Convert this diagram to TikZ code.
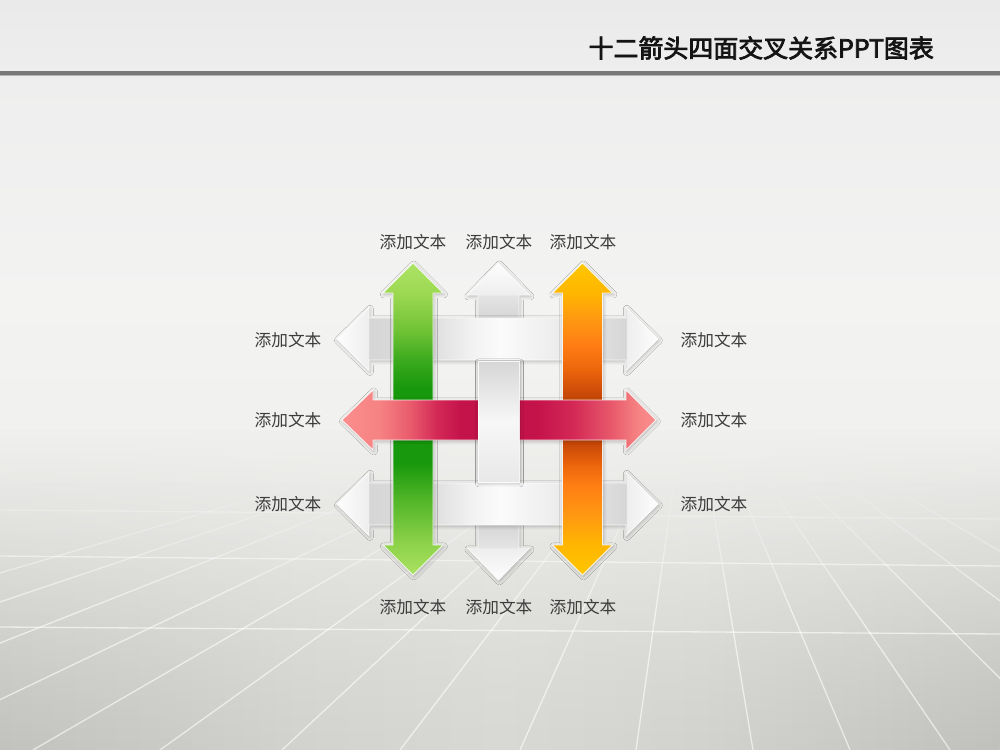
\documentclass[tikz,border=0pt]{standalone}
\usepackage{fontspec}
\setmainfont{Noto Sans CJK SC}
\newfontfamily\titlefont{Noto Sans CJK SC}[FakeBold=3]
\usepackage{xcolor}
\usepackage{tikz}
\usetikzlibrary{fadings,shadows.blur}
\definecolor{lbltext}{HTML}{3C3C3C}
\definecolor{titletext}{HTML}{141414}
\definecolor{barline}{HTML}{787878}
\definecolor{barlite}{HTML}{B4B4B4}
% background
\definecolor{bgT}{HTML}{EAEAEA}
\definecolor{bgU}{HTML}{EEEEEE}
\definecolor{bgM}{HTML}{F3F3F2}
\definecolor{bgL}{HTML}{EEEEEC}
\definecolor{bgB}{HTML}{E2E2DF}
\definecolor{vgA}{HTML}{C2C2BE}
\definecolor{vgB}{HTML}{C9C9C5}
\definecolor{vgC}{HTML}{D2D2CE}
\definecolor{vgD}{HTML}{D8D8D4}
\definecolor{vgE}{HTML}{C0C0BC}
% green
\definecolor{gLt}{HTML}{ACE466}
\definecolor{gHd}{HTML}{9CD852}
\definecolor{gMd}{HTML}{6EC234}
\definecolor{gMk}{HTML}{3CAA1E}
\definecolor{gDk}{HTML}{18980C}
\definecolor{gLo}{HTML}{52B628}
\definecolor{gLb}{HTML}{8ED24A}
\definecolor{gBt}{HTML}{AAE262}
% orange
\definecolor{oYl}{HTML}{FFC600}
\definecolor{oHd}{HTML}{FFB600}
\definecolor{oMd}{HTML}{FF9812}
\definecolor{oOr}{HTML}{FF7E14}
\definecolor{oRd}{HTML}{EC660C}
\definecolor{oDk}{HTML}{C84808}
% red
\definecolor{rPk}{HTML}{FC8E8E}
\definecolor{rP2}{HTML}{F68282}
\definecolor{rP3}{HTML}{E85A6C}
\definecolor{rP4}{HTML}{D42A56}
\definecolor{rCr}{HTML}{C4124A}
% white
\definecolor{wTp}{HTML}{FDFDFD}
\definecolor{wHb}{HTML}{EEEEEE}
\definecolor{wSg}{HTML}{D6D6D6}
\definecolor{wSl}{HTML}{E4E4E4}
\definecolor{wS2}{HTML}{DEDEDE}
\definecolor{wS3}{HTML}{F1F1F1}
\definecolor{wS4}{HTML}{FBFBFB}
\definecolor{wSd}{HTML}{D6D6D6}
\definecolor{wMd}{HTML}{F7F7F7}
\definecolor{wBt}{HTML}{E8E8E8}
\pgfdeclareverticalshading{bgshade}{100bp}{color(0bp)=(bgB); color(25bp)=(bgB); color(37.7bp)=(bgL); color(55bp)=(bgM); color(70bp)=(bgU); color(75bp)=(bgT); color(100bp)=(bgT)}
\pgfdeclarehorizontalshading{vigshade}{100bp}{color(0bp)=(vgA); color(25bp)=(vgA); color(32.5bp)=(vgB); color(40bp)=(vgC); color(50bp)=(vgD); color(60bp)=(vgC); color(67.5bp)=(vgB); color(75bp)=(vgE); color(100bp)=(vgE)}
\pgfdeclareverticalshading{greenv}{100bp}{color(0bp)=(gBt); color(25bp)=(gBt); color(30bp)=(gLb); color(37bp)=(gLo); color(43bp)=(gDk); color(55bp)=(gDk); color(59.5bp)=(gMk); color(64bp)=(gMd); color(70bp)=(gHd); color(75bp)=(gLt); color(100bp)=(gLt)}
\pgfdeclareverticalshading{orangev}{100bp}{color(0bp)=(oYl); color(25bp)=(oYl); color(29.8bp)=(oHd); color(34.6bp)=(oMd); color(39.4bp)=(oOr); color(42.6bp)=(oRd); color(46bp)=(oDk); color(54bp)=(oDk); color(58bp)=(oRd); color(62bp)=(oOr); color(66bp)=(oMd); color(70.2bp)=(oHd); color(75bp)=(oYl); color(100bp)=(oYl)}
\pgfdeclarehorizontalshading{redh}{100bp}{color(0bp)=(rPk); color(25bp)=(rPk); color(31bp)=(rP2); color(36bp)=(rP3); color(40bp)=(rP4); color(44bp)=(rCr); color(56bp)=(rCr); color(62bp)=(rP4); color(68bp)=(rP3); color(72bp)=(rP2); color(75bp)=(rPk); color(100bp)=(rPk)}
\pgfdeclarehorizontalshading{whiteh}{100bp}{color(0bp)=(wTp); color(25bp)=(wTp); color(29.9bp)=(wHb); color(30bp)=(wSg); color(40bp)=(wS2); color(45.7bp)=(wS3); color(50.4bp)=(wS4); color(56.6bp)=(wS3); color(66.4bp)=(wS2); color(70bp)=(wSg); color(70.1bp)=(wHb); color(75bp)=(wTp); color(100bp)=(wTp)}
\pgfdeclareverticalshading{whitev}{100bp}{color(0bp)=(wTp); color(25bp)=(wTp); color(30bp)=(wHb); color(30.1bp)=(wSl); color(33.7bp)=(wSg); color(66.3bp)=(wSg); color(69.9bp)=(wSl); color(70bp)=(wHb); color(75bp)=(wTp); color(100bp)=(wTp)}
\tikzfading[name=fadeup, top color=transparent!100, bottom color=transparent!0]
\tikzfading[name=gridfade, top color=transparent!100, bottom color=transparent!0, middle color=transparent!0]
\tikzset{
  arr/.style={draw=white, draw opacity=.85, line width=.5pt,
    blur shadow={shadow blur radius=2pt, shadow xshift=.5pt, shadow yshift=-.8pt, shadow opacity=25}},
  floor/.style={draw=white, line width=.75pt, opacity=.6},
  lbl/.style={text=lbltext, font=\fontsize{9.5pt}{11pt}\selectfont},
  ttl/.style={text=titletext, font=\titlefont\fontsize{14.2pt}{16pt}\selectfont}
}
\begin{document}
\begin{tikzpicture}[x=0.02cm, y=-0.02cm]
\useasboundingbox (0,0) rectangle (1000,750);
\clip (0,0) rectangle (1000,750);
% background and floor
\shade[shading=bgshade] (0,0) rectangle (1000,750);
\shade[shading=vigshade, path fading=fadeup] (0,430) rectangle (1000,750);
\foreach \b in {-600,-440,-270,-105,33,160,282,400,520,636,753,850,950,1072,1200,1340}
  \draw[floor, path fading=gridfade] ({690+(\b-690)/3.8},470) -- (\b,750);
\draw[floor, opacity=.25] (0,510) -- (1000,519);
\draw[floor, opacity=.5] (0,556) -- (1000,566);
\draw[floor] (0,627) -- (1000,634);
% title bar
\fill[barline] (0,71) rectangle (1000,75);
\fill[barlite] (0,75) rectangle (1000,76.5);
\node[ttl, anchor=east] (title) at (940,48) {十二箭头四面交叉关系PPT图表};
% middle white arrow, under the two white bars
\shade[arr, shading=whitev] (498.5,263) -- (529.5,295) -- (519,295) -- (519,548) -- (529.5,548) -- (498.5,580) -- (467.5,548) -- (478,548) -- (478,295) -- (467.5,295) -- cycle;
% white bars
\shade[arr, shading=whiteh] (337,339) -- (369,307.5) -- (369,318) -- (626,318) -- (626,307.5) -- (658,339) -- (626,370.5) -- (626,360) -- (369,360) -- (369,370.5) -- cycle;
\shade[arr, shading=whiteh] (337,504) -- (369,472.5) -- (369,483) -- (626,483) -- (626,472.5) -- (658,504) -- (626,535.5) -- (626,525) -- (369,525) -- (369,535.5) -- cycle;
% green and orange
\shade[arr, shading=greenv] (413,263) -- (443,293) -- (433,293) -- (433,545) -- (443,545) -- (413,575) -- (383,545) -- (393,545) -- (393,293) -- (383,293) -- cycle;
\shade[arr, shading=orangev] (582.5,263) -- (612.5,293) -- (602.5,293) -- (602.5,545) -- (612.5,545) -- (582.5,575) -- (552.5,545) -- (562.5,545) -- (562.5,293) -- (552.5,293) -- cycle;
% red
\shade[arr, shading=redh] (342,420) -- (373,390) -- (373,400) -- (626,400) -- (626,390) -- (656,420) -- (626,450) -- (626,440) -- (373,440) -- (373,450) -- cycle;
% middle piece over red
\shade[arr, top color=wSd, bottom color=wBt, middle color=wMd] (478,361) rectangle (519,482);
% labels
\foreach \x/\n in {413/1,499/2,583/3} {
  \node[lbl] (top\n) at (\x,242) {添加文本};
  \node[lbl] (bot\n) at (\x,607) {添加文本};
}
\foreach \y/\n in {340/1,420/2,504/3} {
  \node[lbl] (left\n) at (288,\y) {添加文本};
  \node[lbl] (right\n) at (714,\y) {添加文本};
}
\end{tikzpicture}
\end{document}
